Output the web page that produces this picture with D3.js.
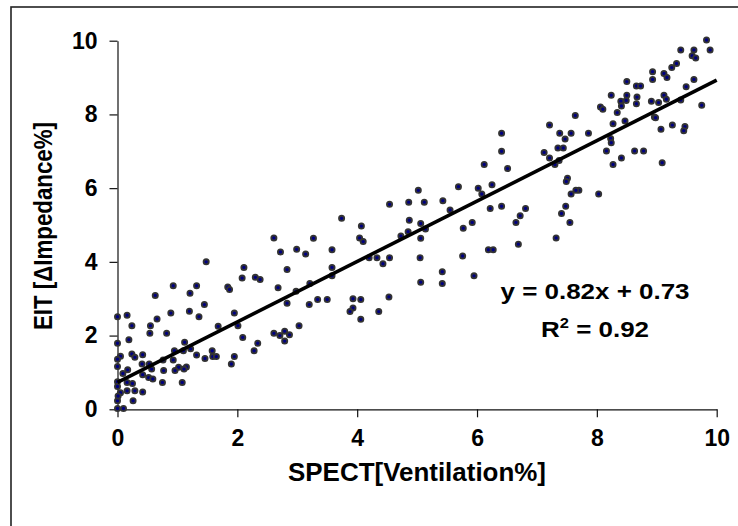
<!DOCTYPE html>
<html>
<head>
<meta charset="utf-8">
<script src="https://cdn.jsdelivr.net/npm/d3@7"></script>
<style>
  html, body { margin: 0; padding: 0; background: #fff; }
  svg { display: block; }
  text { font-family: "Liberation Sans", Arial, sans-serif; font-weight: bold; fill: #000; }
</style>
</head>
<body>
<svg id="chart" width="738" height="526"></svg>
<script>
// ---- data ----
const spectX = [
  9.83, 9.62, 9.40, 9.89, 9.59, 9.65, 9.33, 9.25, 8.93, 9.12, 9.17, 8.93, 9.62, 8.50, 8.66, 8.73, 9.49,
  8.24, 8.50, 8.67, 9.12, 8.49, 8.40, 8.91, 9.16, 9.40, 8.66, 9.03, 8.41, 9.75, 8.06, 8.10, 8.34,
  8.96, 8.98, 7.64, 8.47, 8.27, 7.21, 9.26, 9.47, 9.07, 9.45, 6.41, 7.38, 7.57, 7.86, 7.47, 8.23,
  8.24, 7.35, 7.44, 6.41, 7.12, 8.16, 8.63, 8.78, 7.21, 7.37, 7.30, 8.41, 8.27, 9.09, 6.12, 6.51,
  7.51, 7.49, 5.69, 6.25, 6.02, 5.02, 6.08, 8.03, 7.70, 7.65, 7.57, 4.86, 5.12, 5.43, 4.54, 6.41,
  7.48, 6.22, 6.81, 5.55, 7.41, 3.74, 6.72, 4.87, 4.07, 5.77, 5.92, 6.65, 7.55, 5.06, 5.14, 4.85,
  4.73, 4.04, 5.06, 4.10, 2.61, 3.27, 7.32, 6.69, 2.99, 2.72, 3.14, 3.58, 6.19, 6.27, 4.20, 4.33,
  4.54, 5.05, 5.76, 4.43, 1.48, 3.58, 2.11, 2.83, 5.42, 5.95, 3.58, 2.08, 2.30, 2.38, 5.06, 5.42,
  3.21, 0.93, 1.32, 1.84, 2.68, 1.87, 2.98, 1.21, 0.63, 4.53, 3.34, 3.50, 3.93, 4.06, 2.83, 1.45,
  3.20, 3.93, 3.88, 1.20, 0.89, 4.36, 0.16, 0.00, 1.36, 0.66, 4.06, 1.95, 0.24, 0.55, 2.01, 3.03,
  1.68, 0.54, 0.82, 2.61, 2.71, 2.79, 2.87, 2.79, 2.09, 0.19, 0.00, 1.12, 2.34, 1.10, 2.28, 1.58,
  0.95, 1.22, 0.05, 0.24, 0.29, 0.42, 1.32, 1.46, 1.59, 1.65, 1.95, 0.00, 0.76, 0.93, 0.53, 0.41,
  1.90, 0.00, 1.02, 1.15, 1.11, 0.17, 0.57, 0.77, 0.96, 0.09, 0.42, 0.52, 0.59, 0.00, 0.16, 0.25,
  0.75, 1.08, 0.00, 0.05, 0.16, 0.29, 0.42, 0.00, 0.26, 0.00, 0.10, 0.01
];
const eitY = [
  10.02, 9.75, 9.75, 9.75, 9.59, 9.53, 9.38, 9.27, 9.16, 9.11, 9.00, 8.95, 8.95, 8.89, 8.77, 8.77, 8.75,
  8.52, 8.52, 8.47, 8.52, 8.38, 8.36, 8.36, 8.41, 8.39, 8.29, 8.32, 8.23, 8.25, 8.20, 8.14, 8.05,
  7.93, 7.91, 7.97, 7.82, 7.75, 7.71, 7.71, 7.67, 7.60, 7.56, 7.49, 7.49, 7.49, 7.49, 7.33, 7.35,
  7.23, 7.09, 7.09, 7.00, 6.97, 7.01, 7.01, 7.01, 6.82, 6.75, 6.64, 6.82, 6.64, 6.69, 6.64, 6.53,
  6.27, 6.18, 6.04, 6.09, 6.00, 5.94, 5.84, 5.84, 5.94, 5.94, 5.84, 5.62, 5.62, 5.66, 5.56, 5.51,
  5.51, 5.45, 5.45, 5.41, 5.31, 5.18, 5.25, 5.13, 4.97, 4.91, 5.07, 5.07, 5.07, 5.04, 4.89, 4.82,
  4.70, 4.65, 4.64, 4.55, 4.65, 4.64, 4.65, 4.48, 4.34, 4.27, 4.21, 4.33, 4.33, 4.33, 4.11, 4.11,
  4.11, 4.11, 4.16, 3.95, 4.00, 3.85, 3.85, 3.79, 3.73, 3.62, 3.62, 3.56, 3.58, 3.52, 3.45, 3.41,
  3.41, 3.35, 3.35, 3.32, 3.30, 3.25, 3.20, 3.15, 3.09, 3.05, 2.98, 2.98, 3.00, 2.98, 2.88, 2.84,
  2.84, 2.75, 2.65, 2.66, 2.61, 2.65, 2.55, 2.51, 2.51, 2.45, 2.44, 2.61, 2.27, 2.27, 2.27, 2.27,
  2.25, 2.06, 2.06, 2.06, 2.00, 2.12, 2.02, 1.85, 1.95, 1.89, 1.79, 1.82, 1.79, 1.59, 1.59, 1.59,
  1.59, 1.64, 1.44, 1.50, 1.41, 1.48, 1.47, 1.38, 1.43, 1.43, 1.43, 1.36, 1.34, 1.34, 1.23, 1.23,
  1.23, 1.16, 1.14, 1.15, 1.09, 1.07, 1.09, 1.05, 1.05, 0.97, 0.94, 0.86, 0.82, 0.75, 0.73, 0.70,
  0.73, 0.73, 0.62, 0.45, 0.50, 0.50, 0.47, 0.23, 0.23, 0.02, 0.02, 0.36
];
const tickValues = [0, 2, 4, 6, 8, 10];
const slope = 0.82, intercept = 0.73, rSquared = 0.92;
const xTitle = "SPECT[Ventilation%]";
const yTitle = "EIT [\u0394Impedance%]";

// ---- layout ----
const svg = d3.select("#chart");
const x = d3.scaleLinear().domain([0, 10]).range([117.5, 716.7]);
const y = d3.scaleLinear().domain([0, 10]).range([409.3, 40.7]);

// outer frame (cropped at right and bottom)
svg.append("rect")
  .attr("x", 11).attr("y", 7).attr("width", 900).attr("height", 700)
  .attr("fill", "none").attr("stroke", "#222").attr("stroke-width", 1.6);

// axes
const xAxis = d3.axisBottom(x).tickValues(tickValues).tickSize(8).tickSizeOuter(0).tickPadding(12)
  .tickFormat(d3.format("d"));
const yAxis = d3.axisLeft(y).tickValues(tickValues).tickSize(8).tickSizeOuter(0).tickPadding(12)
  .tickFormat(d3.format("d"));

const gx = svg.append("g").attr("transform", `translate(0,${y(0)})`).call(xAxis);
const gy = svg.append("g").attr("transform", `translate(${x(0)},0)`).call(yAxis);
[gx, gy].forEach(g => {
  g.selectAll("path.domain").attr("stroke", "#111").attr("stroke-width", 1.2);
  g.selectAll(".tick line").attr("stroke", "#111").attr("stroke-width", 1.2);
  g.selectAll(".tick text")
    .style("font-family", '"Liberation Sans", Arial, sans-serif')
    .style("font-weight", "bold").style("font-size", "23px").attr("fill", "#000");
});

// points
svg.append("g").selectAll("circle")
  .data(spectX.map((v, i) => [v, eitY[i]]))
  .join("circle")
  .attr("cx", d => x(d[0]))
  .attr("cy", d => y(d[1]))
  .attr("r", 2.6)
  .attr("fill", "#000080")
  .attr("stroke", "#333")
  .attr("stroke-width", 1.8);

// trendline
svg.append("line")
  .attr("x1", x(0)).attr("y1", y(intercept))
  .attr("x2", x(10)).attr("y2", y(slope * 10 + intercept))
  .attr("stroke", "#000").attr("stroke-width", 3.6);

// equation
const eq = svg.append("g").attr("transform", "translate(595,0) scale(1.18,1)");
eq.append("text").attr("x", 0).attr("y", 299.5).attr("text-anchor", "middle")
  .style("font-size", "22px")
  .text(`y = ${slope}x + ${intercept}`);
const r2 = eq.append("text").attr("x", 0).attr("y", 336.7).attr("text-anchor", "middle")
  .style("font-size", "22px");
r2.append("tspan").text("R");
r2.append("tspan").attr("dy", -9).style("font-size", "14px").text("2");
r2.append("tspan").attr("dy", 9).text(` = ${rSquared}`);

// axis titles
svg.append("text")
  .attr("x", 417).attr("y", 481).attr("text-anchor", "middle")
  .style("font-size", "26px")
  .attr("textLength", 258).attr("lengthAdjust", "spacingAndGlyphs")
  .text(xTitle);

svg.append("text")
  .attr("transform", "translate(52,226) rotate(-90)")
  .attr("text-anchor", "middle")
  .style("font-size", "25px")
  .attr("textLength", 208).attr("lengthAdjust", "spacingAndGlyphs")
  .text(yTitle);
</script>
</body>
</html>
